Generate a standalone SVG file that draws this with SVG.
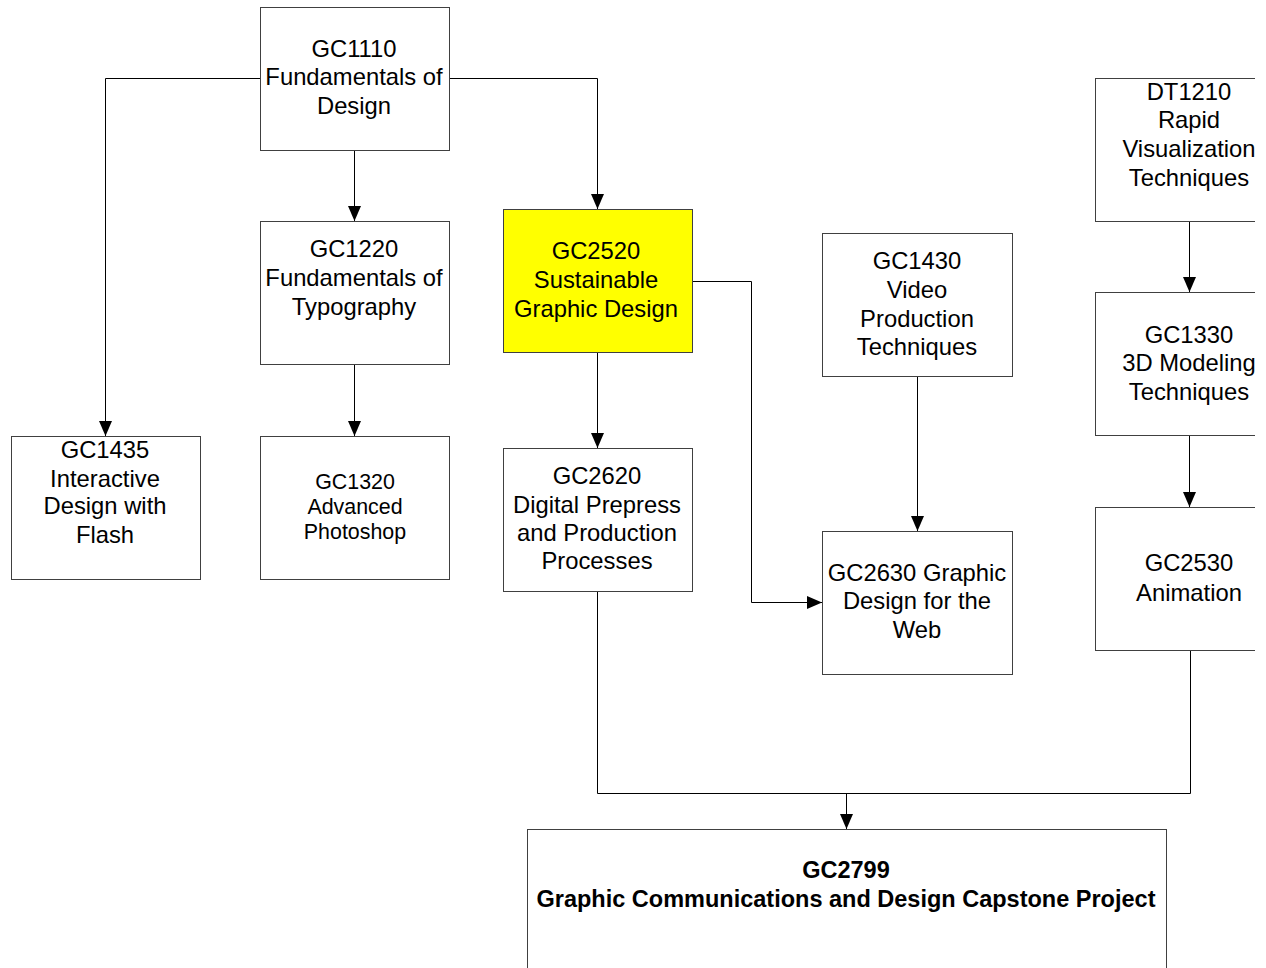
<svg xmlns="http://www.w3.org/2000/svg" width="1266" height="968" viewBox="0 0 1266 968">
<style>
.box{fill:#ffffff;stroke:#404040;stroke-width:1}
.hl{fill:#ffff00;stroke:#404040;stroke-width:1}
.t{font-family:"Liberation Sans",Arial,sans-serif;font-size:23.8px;fill:#000;text-anchor:middle}
.s{font-size:21.4px}
.b{font-weight:bold;font-size:23.5px}
.c{fill:none;stroke:#000;stroke-width:1}
</style>
<defs>
<marker id="ah" markerUnits="userSpaceOnUse" markerWidth="15" markerHeight="13" refX="15" refY="6.5" orient="auto" viewBox="0 0 15 13">
<path d="M0,0 L15,6.5 L0,13 Z" fill="#000"/>
</marker>
<clipPath id="cp"><rect x="0" y="0" width="1255" height="968"/></clipPath>
</defs>
<rect x="0" y="0" width="1266" height="968" fill="#ffffff"/>
<g clip-path="url(#cp)">
<g id="connectors">
<path class="c" d="M260,78.5 H105.5 V436" marker-end="url(#ah)"/>
<path class="c" d="M449,78.5 H597.5 V209" marker-end="url(#ah)"/>
<path class="c" d="M354.5,150 V221" marker-end="url(#ah)"/>
<path class="c" d="M354.5,364 V436" marker-end="url(#ah)"/>
<path class="c" d="M597.5,352 V448" marker-end="url(#ah)"/>
<path class="c" d="M692,281.5 H751.5 V602.5 H822" marker-end="url(#ah)"/>
<path class="c" d="M917.5,376 V531" marker-end="url(#ah)"/>
<path class="c" d="M1189.5,221 V292" marker-end="url(#ah)"/>
<path class="c" d="M1189.5,435 V507" marker-end="url(#ah)"/>
<path class="c" d="M597.5,591 V793.5 H1190.5 V650"/>
<path class="c" d="M846.5,793.5 V829" marker-end="url(#ah)"/>
</g>
<g id="GC1110"><rect class="box" x="260.5" y="7.5" width="189" height="143"/>
<text class="t" x="354" y="57">GC1110</text><text class="t" x="354" y="85">Fundamentals of</text><text class="t" x="354" y="114">Design</text></g>
<g id="GC1220"><rect class="box" x="260.5" y="221.5" width="189" height="143"/>
<text class="t" x="354" y="257">GC1220</text><text class="t" x="354" y="286">Fundamentals of</text><text class="t" x="354" y="315">Typography</text></g>
<g id="GC2520"><rect class="hl" x="503.5" y="209.5" width="189" height="143"/>
<text class="t" x="596" y="259">GC2520</text><text class="t" x="596" y="288">Sustainable</text><text class="t" x="596" y="317">Graphic Design</text></g>
<g id="GC1430"><rect class="box" x="822.5" y="233.5" width="190" height="143"/>
<text class="t" x="917" y="269">GC1430</text><text class="t" x="917" y="298">Video</text><text class="t" x="917" y="327">Production</text><text class="t" x="917" y="355">Techniques</text></g>
<g id="DT1210"><rect class="box" x="1095.5" y="78.5" width="190" height="143"/>
<text class="t" x="1189" y="100">DT1210</text><text class="t" x="1189" y="128">Rapid</text><text class="t" x="1189" y="157">Visualization</text><text class="t" x="1189" y="186">Techniques</text></g>
<g id="GC1330"><rect class="box" x="1095.5" y="292.5" width="190" height="143"/>
<text class="t" x="1189" y="343">GC1330</text><text class="t" x="1189" y="371"> 3D Modeling</text><text class="t" x="1189" y="400">Techniques</text></g>
<g id="GC2530"><rect class="box" x="1095.5" y="507.5" width="190" height="143"/>
<text class="t" x="1189" y="571">GC2530</text><text class="t" x="1189" y="601">Animation</text></g>
<g id="GC1435"><rect class="box" x="11.5" y="436.5" width="189" height="143"/>
<text class="t" x="105" y="458">GC1435</text><text class="t" x="105" y="487">Interactive</text><text class="t" x="105" y="514">Design with</text><text class="t" x="105" y="543">Flash</text></g>
<g id="GC1320"><rect class="box" x="260.5" y="436.5" width="189" height="143"/>
<text class="t s" x="355" y="489">GC1320</text><text class="t s" x="355" y="514">Advanced</text><text class="t s" x="355" y="539">Photoshop</text></g>
<g id="GC2620"><rect class="box" x="503.5" y="448.5" width="189" height="143"/>
<text class="t" x="597" y="484">GC2620</text><text class="t" x="597" y="513">Digital Prepress</text><text class="t" x="597" y="541">and Production</text><text class="t" x="597" y="569">Processes</text></g>
<g id="GC2630"><rect class="box" x="822.5" y="531.5" width="190" height="143"/>
<text class="t" x="917" y="581">GC2630 Graphic</text><text class="t" x="917" y="609">Design for the</text><text class="t" x="917" y="638">Web</text></g>
<g id="GC2799"><rect class="box" x="527.5" y="829.5" width="639" height="160"/>
<text class="t b" x="846" y="878">GC2799</text><text class="t b" x="846" y="907">Graphic Communications and Design Capstone Project</text></g>
</g>
</svg>
